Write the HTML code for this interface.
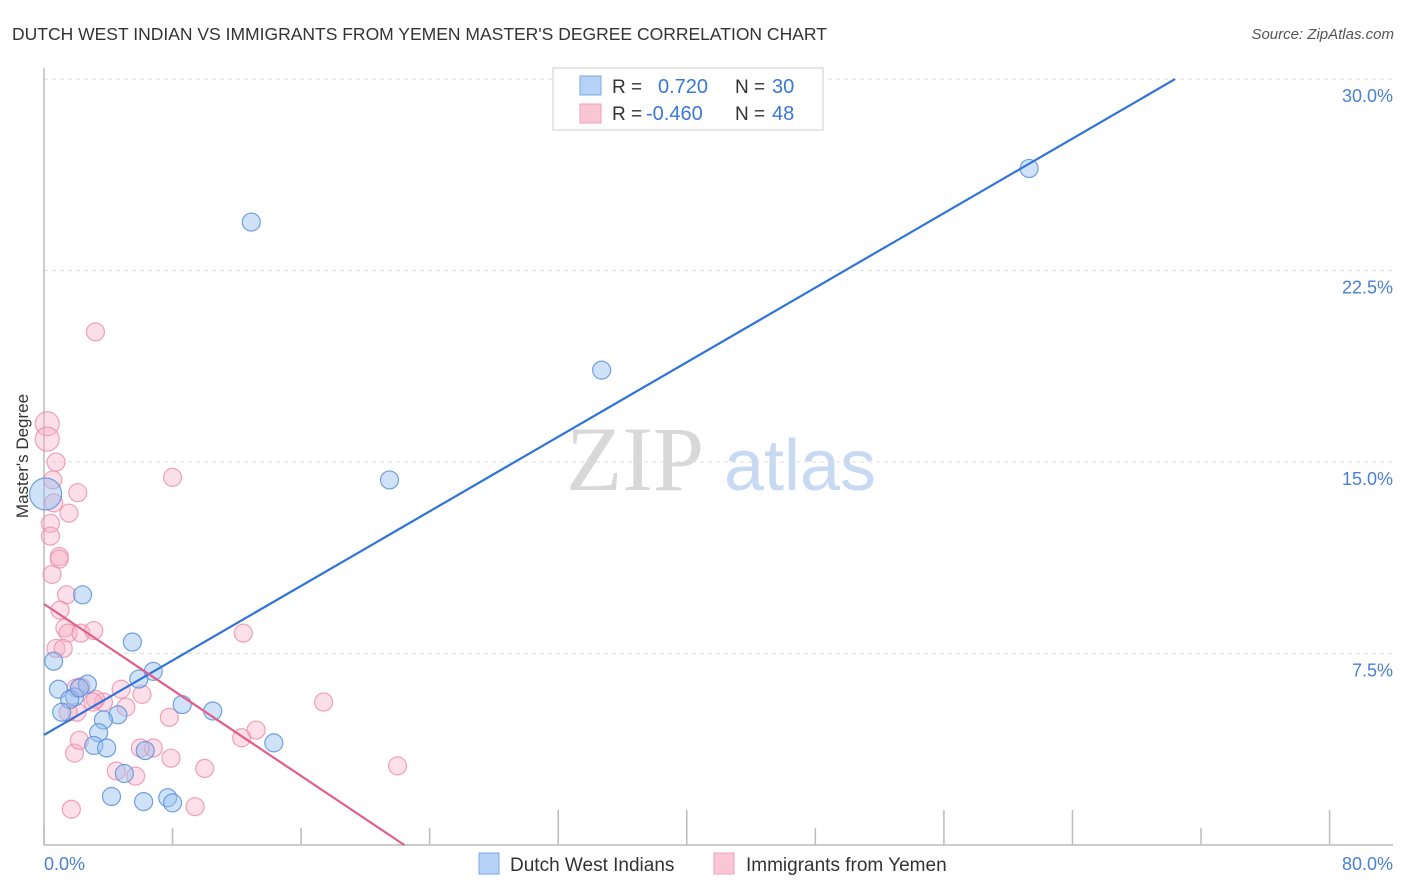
<!DOCTYPE html>
<html><head><meta charset="utf-8"><style>
body{margin:0;background:#fff;font-family:"Liberation Sans",sans-serif;}
svg{display:block}
</style></head><body>
<svg width="1406" height="892" xmlns="http://www.w3.org/2000/svg">
<text x="12" y="40" font-size="17.5" fill="#333">DUTCH WEST INDIAN VS IMMIGRANTS FROM YEMEN MASTER'S DEGREE CORRELATION CHART</text>
<text x="1394" y="39" font-size="15" fill="#555" font-style="italic" text-anchor="end">Source: ZipAtlas.com</text>
<g>
<text x="635" y="490" font-size="92" fill="#d8d8d8" font-family="Liberation Serif,serif" text-anchor="middle">ZIP</text>
<text x="800" y="490" font-size="72" fill="#c8daf2" text-anchor="middle">atlas</text>
</g>
<g id="grid"></g>
<g id="axes"></g>
<g id="pts"></g>
<g id="lines"></g>
<text x="28" y="456" font-size="17" fill="#333" text-anchor="middle" transform="rotate(-90 28 456)">Master's Degree</text>
<text x="44" y="870" font-size="18" fill="#4a7fd8">0.0%</text>
<text x="1393" y="870" font-size="18" fill="#4a7fd8" text-anchor="end">80.0%</text>
<g>
<rect x="553" y="68" width="270" height="62" fill="#fff" stroke="#ccc"/>
<rect x="580" y="76" width="21" height="19" fill="#b6d3f7" stroke="#7aa8e3"/>
<rect x="580" y="104" width="21" height="19" fill="#f9c6d5" stroke="#f0a3bb"/>
<text x="612" y="93" font-size="19" fill="#333">R =</text>
<text x="658" y="93" font-size="20" fill="#3a78d8">0.720</text>
<text x="735" y="93" font-size="19" fill="#333">N =</text>
<text x="772" y="93" font-size="20" fill="#3a78d8">30</text>
<text x="612" y="120" font-size="19" fill="#333">R =</text>
<text x="646" y="120" font-size="20" fill="#3a78d8">-0.460</text>
<text x="735" y="120" font-size="19" fill="#333">N =</text>
<text x="772" y="120" font-size="20" fill="#3a78d8">48</text>
</g>
<g>
<rect x="479" y="853" width="20" height="21" fill="#b6d3f7" stroke="#7aa8e3"/>
<text x="510" y="871" font-size="19" fill="#333">Dutch West Indians</text>
<rect x="714" y="853" width="20" height="21" fill="#f9c6d5" stroke="#f0a3bb"/>
<text x="746" y="871" font-size="19" fill="#333">Immigrants from Yemen</text>
</g>
</svg>
<script>
const yTicks=[7.5,15,22.5,30];
const yTickLabels=["7.5%","15.0%","22.5%","30.0%"];
const xTicks=[0,8,16,24,32,40,48,56,64,72,80];
const blueX=[12.9,61.3,34.7,21.5,2.4,5.5,0.6,6.8,5.9,0.9,2.7,1.9,1.6,1.1,8.6,10.5,4.6,3.7,3.4,3.1,3.9,6.3,14.3,5.0,4.2,6.2,7.7,8.0,0.1,2.2];
const blueY=[24.4,26.5,18.6,14.3,9.8,7.95,7.2,6.8,6.5,6.1,6.3,5.8,5.7,5.2,5.5,5.25,5.1,4.9,4.4,3.9,3.8,3.7,4.0,2.8,1.9,1.7,1.85,1.65,13.75,6.15];
const pinkX=[3.2,8.0,0.2,0.2,0.75,0.55,2.1,0.6,1.55,0.4,0.4,0.95,0.95,0.5,1.4,1.0,1.3,1.5,2.3,3.1,0.75,1.2,12.4,17.4,2.3,2.0,4.8,6.1,3.7,3.2,5.1,2.05,1.5,7.8,1.9,2.2,13.2,12.3,6.8,6.0,7.9,10.0,4.5,5.7,22.0,1.7,9.4,3.05];
const pinkY=[20.1,14.4,16.5,15.9,15.0,14.3,13.8,13.4,13.0,12.6,12.1,11.3,11.2,10.6,9.8,9.2,8.5,8.3,8.3,8.4,7.7,7.7,8.3,5.6,6.2,6.15,6.1,5.9,5.6,5.7,5.4,5.2,5.2,5.0,3.6,4.1,4.5,4.2,3.8,3.8,3.4,3.0,2.9,2.7,3.1,1.4,1.5,5.6];
const blueFit=[4.31,0.365];
const pinkFit=[9.44,-0.421];
const X=v=>44+v*16.07, Y=v=>845-v*25.53;
const NS="http://www.w3.org/2000/svg";
function mk(t,a,p){const e=document.createElementNS(NS,t);for(const k in a)e.setAttribute(k,a[k]);p.appendChild(e);return e;}
const grid=document.getElementById('grid'),axes=document.getElementById('axes'),pts=document.getElementById('pts'),lines=document.getElementById('lines');
yTicks.forEach((t,i)=>{
 const g=mk('line',{x1:44,x2:1393,y1:Y(t),y2:Y(t),stroke:'#ddd','stroke-dasharray':'4,4'},grid);
 
 
 const tx=mk('text',{x:1393,y:Y(t)+23,'font-size':18,fill:'#4a7fd8','text-anchor':'end'},grid);
 tx.textContent=yTickLabels[i];
 
 
});
const ya=mk('line',{x1:44,x2:44,y1:68,y2:845,stroke:'#bbb','stroke-width':1.5},axes);


const xa=mk('line',{x1:44,x2:1393,y1:845,y2:845,stroke:'#bbb','stroke-width':1.5},axes);


xTicks.forEach((t,i)=>{
 const long=[4,5,7,8,10].includes(i);
 const tk=mk('line',{x1:X(t),x2:X(t),y1:long?810:828,y2:845,stroke:'#bbb','stroke-width':1.5},axes);
 
 
});
function dots(xs,ys,fill,stroke,name){
 xs.forEach((x,i)=>{
  const big=(name==='dutch-point'&&i===28)?16:(name==='yemen-point'&&(i===2||i===3))?12:9;
  const c=mk('circle',{cx:X(x),cy:Y(ys[i]),r:big,fill:fill,stroke:stroke,'stroke-width':1.2},pts);
  
  
 });
}
dots(pinkX,pinkY,'rgba(248,176,198,0.4)','rgba(236,140,170,0.8)','yemen-point');
dots(blueX,blueY,'rgba(150,190,240,0.45)','rgba(90,145,220,0.85)','dutch-point');
const bx2=(30-blueFit[0])/blueFit[1];
const bl=mk('line',{x1:X(0),y1:Y(blueFit[0]),x2:X(bx2),y2:Y(30),stroke:'#2f74d6','stroke-width':2.2},lines);


const px2=-pinkFit[0]/pinkFit[1];
const pl=mk('line',{x1:X(0),y1:Y(pinkFit[0]),x2:X(px2),y2:Y(0),stroke:'#e0608a','stroke-width':2.2},lines);


</script>
</body></html>
